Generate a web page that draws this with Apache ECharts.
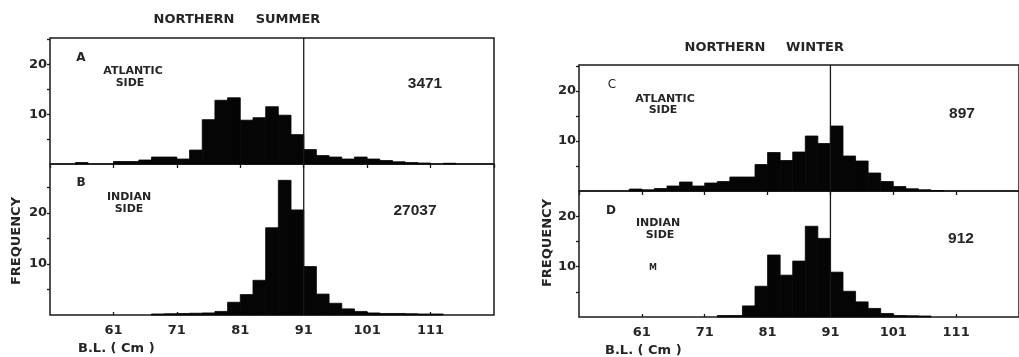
<!DOCTYPE html>
<html>
<head>
<meta charset="utf-8">
<script src="https://cdn.jsdelivr.net/npm/echarts@6/dist/echarts.min.js"></script>
<style>html,body{margin:0;padding:0;background:#fff;}#c{width:1019px;height:357px;}</style>
</head>
<body>
<div id="c"></div>
<script>
// Bin left edges (cm), each bin 2 cm wide
const binStart = [51,53,55,57,59,61,63,65,67,69,71,73,75,77,79,81,83,85,87,89,91,93,95,97,99,101,103,105,107,109,111,113,115,117,119];
// Panel A: Northern summer, Atlantic side
const freqA = [0,0,0.3,0,0,0.5,0.5,0.8,1.4,1.4,1.0,2.8,8.9,12.8,13.3,8.8,9.3,11.5,9.8,5.9,2.9,1.7,1.4,1.0,1.4,1.0,0.7,0.45,0.3,0.2,0,0.15,0,0,0];
// Panel B: Northern summer, Indian side
const freqB = [0,0,0,0,0,0,0,0,0.2,0.25,0.3,0.35,0.4,0.7,2.5,4.0,6.8,17.1,26.4,20.6,9.5,4.1,2.3,1.2,0.7,0.4,0.3,0.3,0.25,0.2,0.2,0,0,0,0];
// Panel C: Northern winter, Atlantic side
const freqC = [0,0,0,0,0.4,0.25,0.5,1.0,1.8,1.0,1.6,1.9,2.8,2.8,5.3,7.7,6.1,7.8,11.0,9.5,13.0,7.0,6.0,3.6,1.9,0.9,0.45,0.25,0.1,0,0,0,0,0,0];
// Panel D: Northern winter, Indian side
const freqD = [0,0,0,0,0,0,0,0,0,0,0,0.3,0.3,2.2,6.1,12.3,8.3,11.1,18.0,15.6,8.9,5.1,3.0,1.7,0.7,0.3,0.25,0.2,0,0,0,0,0,0,0];
const xTickLabels = [61,71,81,91,101,111];
const yTickLabels = [10,20];
const counts = ['3471','27037','897','912'];
const BIN_W = 2;
const REF_X = 91;

const FONT = '"DejaVu Sans", sans-serif';
const INK = '#252525';

const grids = [
  {left:50, top:38, width:444, height:126, yMax:25.3},
  {left:50, top:164, width:444, height:151, yMax:29.6},
  {left:579, top:65, width:443, height:126, yMax:25.2},
  {left:579, top:191, width:443, height:126, yMax:25.0}
];
const freqs = [freqA, freqB, freqC, freqD];

const option = {
  animation:false,
  backgroundColor:'#fff',
  grid: grids.map(g => ({left:g.left, top:g.top, width:g.width, height:g.height, show:true, borderColor:'#1a1a1a', borderWidth:1.5, backgroundColor:'transparent'})),
  xAxis: grids.map((g,i) => {
    const lower = (i % 2 === 1);
    return {
      type:'value', gridIndex:i, min:51, max:121, interval:10, position:'bottom',
      splitLine:{show:false},
      axisLine:{show:false},
      axisTick:{show:true, inside:lower, length:lower?3:4, lineStyle:{color:'#1a1a1a', width:1.3}},
      axisLabel:{show:lower, margin:9, showMinLabel:false, showMaxLabel:false,
        formatter: v => xTickLabels.indexOf(Math.round(v)) >= 0 ? String(Math.round(v)) : '',
        fontFamily:FONT, fontWeight:'bold', fontSize:13, color:INK}
    };
  }),
  yAxis: grids.map((g,i) => ({
    type:'value', gridIndex:i, min:0, max:g.yMax, interval:5,
    splitLine:{show:false},
    axisLine:{show:false},
    axisTick:{show:true, inside:false, length:3, lineStyle:{color:'#1a1a1a', width:1.3}},
    axisLabel:{margin:3, showMaxLabel:false, showMinLabel:false,
      formatter: v => yTickLabels.indexOf(Math.round(v*100)/100) >= 0 ? String(v) : '',
      fontFamily:FONT, fontWeight:'bold', fontSize:13, color:INK}
  })),
  series: []
};

freqs.forEach((f,i) => {
  option.series.push({
    type:'custom', xAxisIndex:i, yAxisIndex:i, silent:true,
    data: binStart.map((b,k) => [b, f[k]]),
    encode:{x:0, y:1},
    renderItem: (params, api) => {
      const x0 = api.value(0), h = api.value(1);
      if (!h) return null;
      const p0 = api.coord([x0, 0]);
      const p1 = api.coord([x0 + BIN_W, h]);
      return {type:'rect', shape:{x:p0[0], y:p1[1], width:p1[0]-p0[0], height:p0[1]-p1[1]},
        style:{fill:'#050505', stroke:'#050505', lineWidth:0.8}};
    }
  });
  option.series.push({
    type:'line', xAxisIndex:i, yAxisIndex:i, silent:true, symbol:'none',
    data:[[REF_X,0],[REF_X,grids[i].yMax]],
    lineStyle:{color:'#1a1a1a', width:1.3}
  });
});

function txt(t, x, y, size, opts) {
  opts = opts || {};
  return {type:'text', x:x, y:y, rotation:opts.rotation||0, silent:true, z:100,
    style:{text:t, fill:INK, align:opts.align||'center', verticalAlign:'middle',
      font:(opts.weight||'bold') + ' ' + size + 'px ' + (opts.family||FONT)}};
}
const NUMF = '"Liberation Sans", Arial, sans-serif';
option.graphic = [
  txt('NORTHERN', 194, 20, 13), txt('SUMMER', 288, 20, 13),
  txt('NORTHERN', 725, 48, 13), txt('WINTER', 815, 48, 13),
  txt('A', 81, 58, 12), txt('ATLANTIC', 133, 71, 11), txt('SIDE', 130, 83.5, 11),
  txt(counts[0], 425, 84, 15.5, {family:NUMF}),
  txt('B', 81, 183, 12), txt('INDIAN', 129, 197, 11), txt('SIDE', 129, 209, 11),
  txt(counts[1], 415, 211, 15.5, {family:NUMF}),
  txt('C', 612, 85, 12, {weight:'normal'}), txt('ATLANTIC', 665, 99, 11), txt('SIDE', 663, 110.5, 11),
  txt(counts[2], 962, 114, 15.5, {family:NUMF}),
  txt('D', 611, 211, 12), txt('INDIAN', 658, 223.5, 11), txt('SIDE', 660, 235, 11),
  txt('M', 653, 268, 8),
  txt(counts[3], 961, 239, 15.5, {family:NUMF}),
  txt('FREQUENCY', 17, 241, 13, {rotation:Math.PI/2}),
  txt('FREQUENCY', 547.5, 243, 13, {rotation:Math.PI/2}),
  txt('B.L. ( Cm )', 78, 349, 13, {align:'left'}),
  txt('B.L. ( Cm )', 605, 351, 13, {align:'left'})
];

const chart = echarts.init(document.getElementById('c'), null, {renderer:'canvas'});
chart.setOption(option);
</script>
</body>
</html>
